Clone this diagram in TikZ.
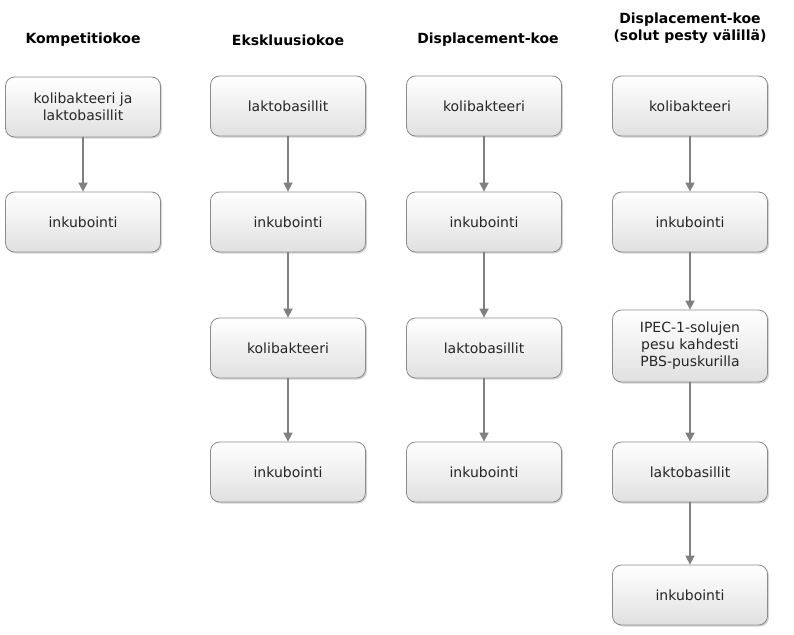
\documentclass[tikz,border=0pt]{standalone}
\usepackage{fontspec}
\setmainfont{DejaVu Sans}
\usetikzlibrary{arrows.meta,shadows}
\begin{document}
\begin{tikzpicture}[x=1pt,y=-1pt,
 box/.style={draw=black!45,line width=0.8pt,rounded corners=9pt,minimum width=155pt,minimum height=60pt,
   top color=white,bottom color=black!12,align=center,font=\fontsize{14}{17}\selectfont,text=black!85,
   drop shadow={shadow xshift=1.5pt,shadow yshift=-1.5pt,opacity=0.35}},
 hd/.style={font=\bfseries\fontsize{14}{17}\selectfont,align=center},
 arr/.style={draw=black!50,line width=1.6pt,-{Triangle[length=9pt,width=9pt]}}]
\useasboundingbox (0,0) rectangle (794,634);
\node[hd] (h1) at (83,40) {Kompetitiokoe};
\node[hd] (h2) at (288,40) {Ekskluusiokoe};
\node[hd] (h3) at (488,40) {Displacement-koe};
\node[hd] (h4) at (690,28) {Displacement-koe\\(solut pesty välillä)};
\node[box] (a1) at (83,107) {kolibakteeri ja\\laktobasillit};
\node[box] (a2) at (83,222) {inkubointi};
\node[box] (b1) at (288,106) {laktobasillit};
\node[box] (b2) at (288,222) {inkubointi};
\node[box] (b3) at (288,348) {kolibakteeri};
\node[box] (b4) at (288,472) {inkubointi};
\node[box] (c1) at (484,106) {kolibakteeri};
\node[box] (c2) at (484,222) {inkubointi};
\node[box] (c3) at (484,348) {laktobasillit};
\node[box] (c4) at (484,472) {inkubointi};
\node[box] (d1) at (690,106) {kolibakteeri};
\node[box] (d2) at (690,222) {inkubointi};
\node[box,minimum height=72pt] (d3) at (690,346) {IPEC-1-solujen\\pesu kahdesti\\PBS-puskurilla};
\node[box] (d4) at (690,472) {laktobasillit};
\node[box] (d5) at (690,595) {inkubointi};
\foreach \u/\v in {a1/a2,b1/b2,b2/b3,b3/b4,c1/c2,c2/c3,c3/c4,d1/d2,d2/d3,d3/d4,d4/d5}
  \draw[arr] (\u) -- (\v);
\end{tikzpicture}
\end{document}
